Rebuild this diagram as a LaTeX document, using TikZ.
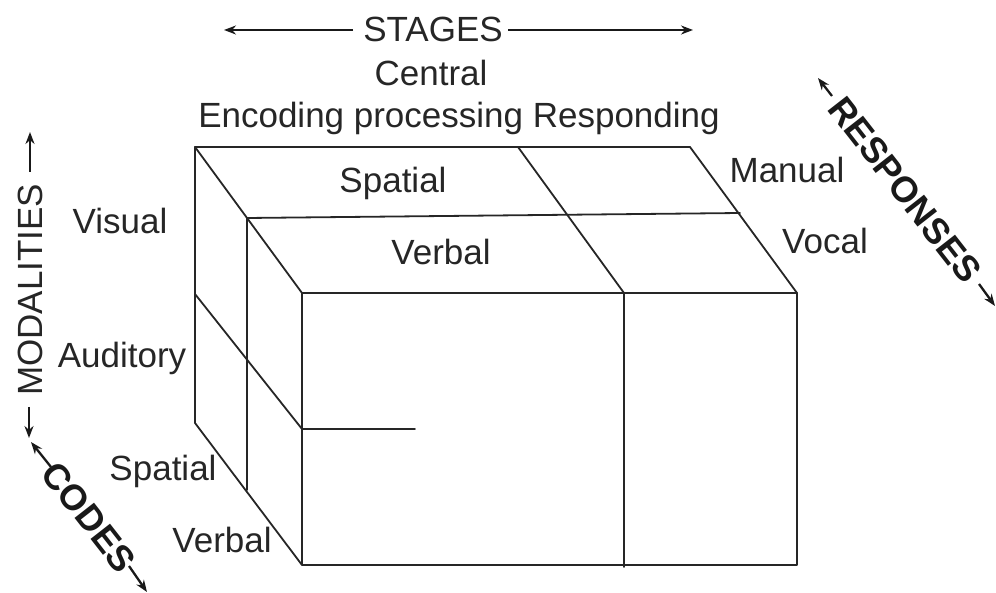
\documentclass[tikz,border=0pt]{standalone}
\usepackage{fontspec}
\setmainfont{Liberation Sans}
\usetikzlibrary{arrows.meta}
\begin{document}
\begin{tikzpicture}[x=1pt,y=-1pt,
  edge/.style={line width=1.8pt, draw=black!85, line cap=round, line join=round},
  axis/.style={line width=2.3pt, draw=black!90, -{Stealth[length=12pt,width=9pt]}},
  lbl/.style={font=\fontsize{35}{42}\selectfont, text=black!85, inner sep=0pt, anchor=base},
  blbl/.style={font=\fontsize{36}{42}\selectfont\bfseries, text=black!90, inner sep=0pt}]
\useasboundingbox (0,0) rectangle (996,593);
% cube corners
\coordinate (A) at (195,147);
\coordinate (B) at (518,147);
\coordinate (C) at (690,147);
\coordinate (D) at (302,293);
\coordinate (E) at (624,293);
\coordinate (F) at (797,293);
\coordinate (G) at (302,565);
\coordinate (H) at (624,567);
\coordinate (I) at (797,565);
\coordinate (M1) at (247,218);
\coordinate (M2) at (740,213);
\coordinate (L1) at (195,294);
\coordinate (L2) at (302,429);
\coordinate (L3) at (195,423);
\coordinate (M3) at (247,490);
\coordinate (S) at (415,429);
% cube edges
\draw[edge] (A) -- (C) -- (F);
\draw[edge] (A) -- (D) -- (F);
\draw[edge] (B) -- (E);
\draw[edge] (M1) -- (M2);
\draw[edge] (D) -- (G) -- (I) -- (F);
\draw[edge] (E) -- (H);
\draw[edge] (A) -- (L3) -- (G);
\draw[edge] (L1) -- (L2);
\draw[edge] (M1) -- (M3);
\draw[edge] (L2) -- (S);
% top labels
\node[lbl] (stages) at (433,42) {STAGES};
\node[lbl] (central) at (431,86) {Central};
\node[lbl] (enc) at (459,128) {Encoding processing Responding};
\coordinate (stL) at (224,30);
\coordinate (stR) at (693,30);
\coordinate (stLs) at (353,30);
\coordinate (stRs) at (508,30);
\draw[axis] (stLs) -- (stL);
\draw[axis] (stRs) -- (stR);
% top face labels
\node[lbl] (tspatial) at (393,193) {Spatial};
\node[lbl] (tverbal) at (441,265) {Verbal};
\node[lbl] (manual) at (787,183) {Manual};
\node[lbl] (vocal) at (825,254) {Vocal};
% left labels
\node[lbl] (visual) at (120,234) {Visual};
\node[lbl] (auditory) at (122,368) {Auditory};
\node[lbl] (lspatial) at (163,480) {Spatial};
\node[lbl] (lverbal) at (222,552) {Verbal};
% MODALITIES
\node[lbl, rotate=90] (modal) at (42,290) {MODALITIES};
\coordinate (moU1) at (30,172);
\coordinate (moU2) at (30,132);
\coordinate (moD1) at (29,407);
\coordinate (moD2) at (29,438);
\draw[axis] (moU1) -- (moU2);
\draw[axis] (moD1) -- (moD2);
% CODES
\node[blbl, rotate=-52] (codes) at (89,517) {CODES};
\coordinate (coU1) at (51,467);
\coordinate (coU2) at (31,442);
\coordinate (coD1) at (129,566);
\coordinate (coD2) at (147,592);
\draw[axis] (coU1) -- (coU2);
\draw[axis] (coD1) -- (coD2);
% RESPONSES
\node[blbl, rotate=-52] (resp) at (905,190) {RESPONSES};
\coordinate (reU1) at (832,96);
\coordinate (reU2) at (818,78);
\coordinate (reD1) at (979,284);
\coordinate (reD2) at (995,306);
\draw[axis] (reU1) -- (reU2);
\draw[axis] (reD1) -- (reD2);
\end{tikzpicture}
\end{document}
